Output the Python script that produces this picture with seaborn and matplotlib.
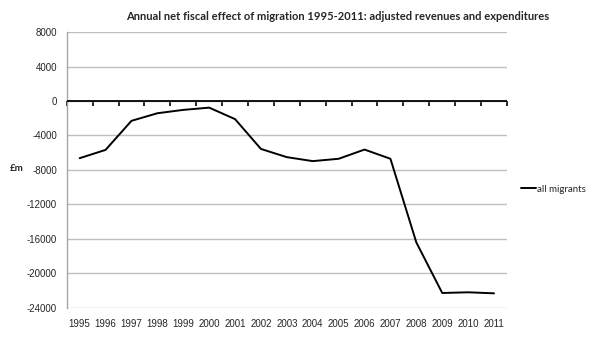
import matplotlib
matplotlib.use("Agg")
import matplotlib.pyplot as plt
import seaborn as sns
import pandas as pd

years = [str(y) for y in range(1995, 2012)]
all_migrants = [-6630, -5670, -2300, -1420, -1030, -770, -2100, -5560, -6510,
                -6970, -6700, -5630, -6700, -16400, -22260, -22180, -22300]
y_ticks = [8000, 4000, 0, -4000, -8000, -12000, -16000, -20000, -24000]
title = "Annual net fiscal effect of migration 1995-2011: adjusted revenues and expenditures"
series_name = "all migrants"

sns.set_theme(style="white")
plt.rcParams['font.family'] = ['Liberation Sans', 'DejaVu Sans']

df = pd.DataFrame({"year": years, "value": all_migrants, "series": series_name})
df["x"] = range(len(years))

fig = plt.figure(figsize=(5.94, 3.49), dpi=100)
ax = fig.add_axes([0.1123, 0.1175, 0.7412, 0.7908])

sns.lineplot(data=df, x="x", y="value", hue="series", palette=["black"],
             linewidth=1.4, ax=ax, legend=True)

ax.set_xlim(-0.5, len(years) - 0.5)
ax.set_ylim(-24000, 8000)
ax.set_yticks(y_ticks)
ax.set_yticklabels([str(v) for v in y_ticks], fontsize=7)
ax.set_xticks(range(len(years)))
ax.set_xticklabels(years, fontsize=7)
ax.tick_params(axis='x', length=0, pad=8)
ax.tick_params(axis='y', length=4, color='#a6a6a6', pad=3)
ax.grid(axis='y', color='#bfbfbf', linewidth=1)
ax.set_axisbelow(True)
for s in ['top', 'right', 'bottom']:
    ax.spines[s].set_visible(False)
ax.spines['left'].set_color('#a6a6a6')
ax.spines['left'].set_linewidth(1)
ax.set_xlabel("")
ax.set_ylabel("")

# category axis crossing at zero
ax.axhline(0, color='black', linewidth=1.3, zorder=3)
frac = (0 - (-24000)) / (8000 - (-24000))
sec = ax.secondary_xaxis(frac)
sec.set_xticks([i - 0.5 for i in range(len(years) + 1)])
sec.set_xticklabels([])
sec.tick_params(axis='x', which='major', direction='in', length=3.5, width=1.2,
                color='black')
for s in sec.spines.values():
    s.set_visible(False)

fig.text(0.016, 1 - 169 / 349, "£m", fontsize=7, fontweight='bold',
         ha='left', va='center', family=['Lato', 'DejaVu Sans'])
fig.text(0.569, 1 - 17 / 349, title, fontsize=8, fontweight='bold',
         ha='center', va='center', family=['Lato', 'DejaVu Sans'])

leg = ax.legend(loc='center left', bbox_to_anchor=(1.011, 0.43), frameon=False,
                handlelength=1.6, handletextpad=0.1,
                prop={'family': ['Lato', 'DejaVu Sans'], 'size': 7})

fig.savefig("out.png", dpi=100)
